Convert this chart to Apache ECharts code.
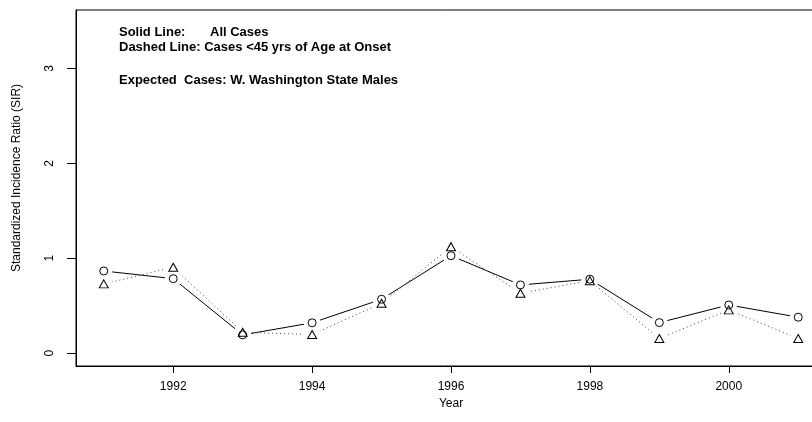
<!DOCTYPE html>
<html>
<head>
<meta charset="utf-8">
<script src="https://cdn.jsdelivr.net/npm/echarts@6/dist/echarts.min.js"></script>
<style>html,body{margin:0;padding:0;background:#fff}#c{width:812px;height:422px}</style>
</head>
<body>
<div id="c"></div>
<script>
const years = [1991,1992,1993,1994,1995,1996,1997,1998,1999,2000,2001];
const allCases = [0.866,0.785,0.193,0.32,0.568,1.027,0.719,0.779,0.322,0.508,0.379];
const under45 = [0.73,0.905,0.22,0.196,0.526,1.122,0.632,0.764,0.154,0.456,0.154];
const xTicks = [1992,1994,1996,1998,2000];
const yTicks = [0,1,2,3];
const noteLines = ['Solid Line:', 'All Cases', 'Dashed Line: Cases <45 yrs of Age at Onset', 'Expected  Cases: W. Washington State Males'];

const pairs = a => years.map((y,i)=>[y,a[i]]);
const F = 'Liberation Sans, Arial, sans-serif';
const chart = echarts.init(document.getElementById('c'), null, {renderer:'canvas'});
chart.setOption({
  animation:false,
  backgroundColor:'#fff',
  grid:{left:76, top:10, right:-14, bottom:56, outerBoundsMode:'none', containLabel:false, show:true, borderColor:'#000', borderWidth:1, backgroundColor:'transparent'},
  xAxis:{type:'value', min:1990.6, max:2001.4,
    name:'Year', nameLocation:'middle', nameGap:31,
    nameTextStyle:{fontFamily:F, fontSize:12, color:'#000'},
    axisLine:{show:true, onZero:false, lineStyle:{color:'#000', width:1}},
    axisTick:{show:true, length:7, customValues:xTicks, lineStyle:{color:'#000'}},
    axisLabel:{customValues:xTicks, margin:15, fontFamily:F, fontSize:12, color:'#000', formatter:v=>String(v)},
    splitLine:{show:false}},
  yAxis:{type:'value', min:-0.135, max:3.615,
    name:'Standardized Incidence Ratio (SIR)', nameLocation:'middle', nameGap:53, nameRotate:90,
    nameTextStyle:{fontFamily:F, fontSize:12, color:'#000', padding:[0,0,0,20]},
    axisLine:{show:true, onZero:false, lineStyle:{color:'#000', width:1}},
    axisTick:{show:true, length:9, customValues:yTicks, lineStyle:{color:'#000'}},
    axisLabel:{customValues:yTicks, rotate:90, margin:20, fontFamily:F, fontSize:12, color:'#000', formatter:v=>String(v)},
    splitLine:{show:false}},
  graphic:[
    {type:'text', left:119, top:26, style:{text:noteLines[0], font:'bold 13px '+F, fill:'#000'}},
    {type:'text', left:210, top:26, style:{text:noteLines[1], font:'bold 13px '+F, fill:'#000'}},
    {type:'text', left:119, top:41, style:{text:noteLines[2], font:'bold 13px '+F, fill:'#000'}},
    {type:'text', left:119, top:74, style:{text:noteLines[3], font:'bold 13px '+F, fill:'#000'}}
  ],
  series:[
    {type:'line', data:pairs(allCases), symbol:'none', lineStyle:{color:'#000', width:1, type:'solid'}, z:2},
    {type:'line', data:pairs(under45), symbol:'none', lineStyle:{color:'#444', width:1, type:[1,3]}, z:2},
    {type:'scatter', data:pairs(allCases), symbol:'circle', symbolSize:17, itemStyle:{color:'#fff', opacity:1}, silent:true, z:3},
    {type:'scatter', data:pairs(under45), symbol:'circle', symbolSize:17, itemStyle:{color:'#fff', opacity:1}, silent:true, z:3},
    {type:'scatter', data:pairs(allCases), symbol:'circle', symbolSize:8, itemStyle:{color:'#fff', borderColor:'#000', borderWidth:1, opacity:1}, z:4},
    {type:'scatter', data:pairs(under45), symbol:'triangle', symbolSize:[9,8], itemStyle:{color:'rgba(255,255,255,0)', borderColor:'#000', borderWidth:1, opacity:1}, z:5}
  ]
});
</script>
</body>
</html>
